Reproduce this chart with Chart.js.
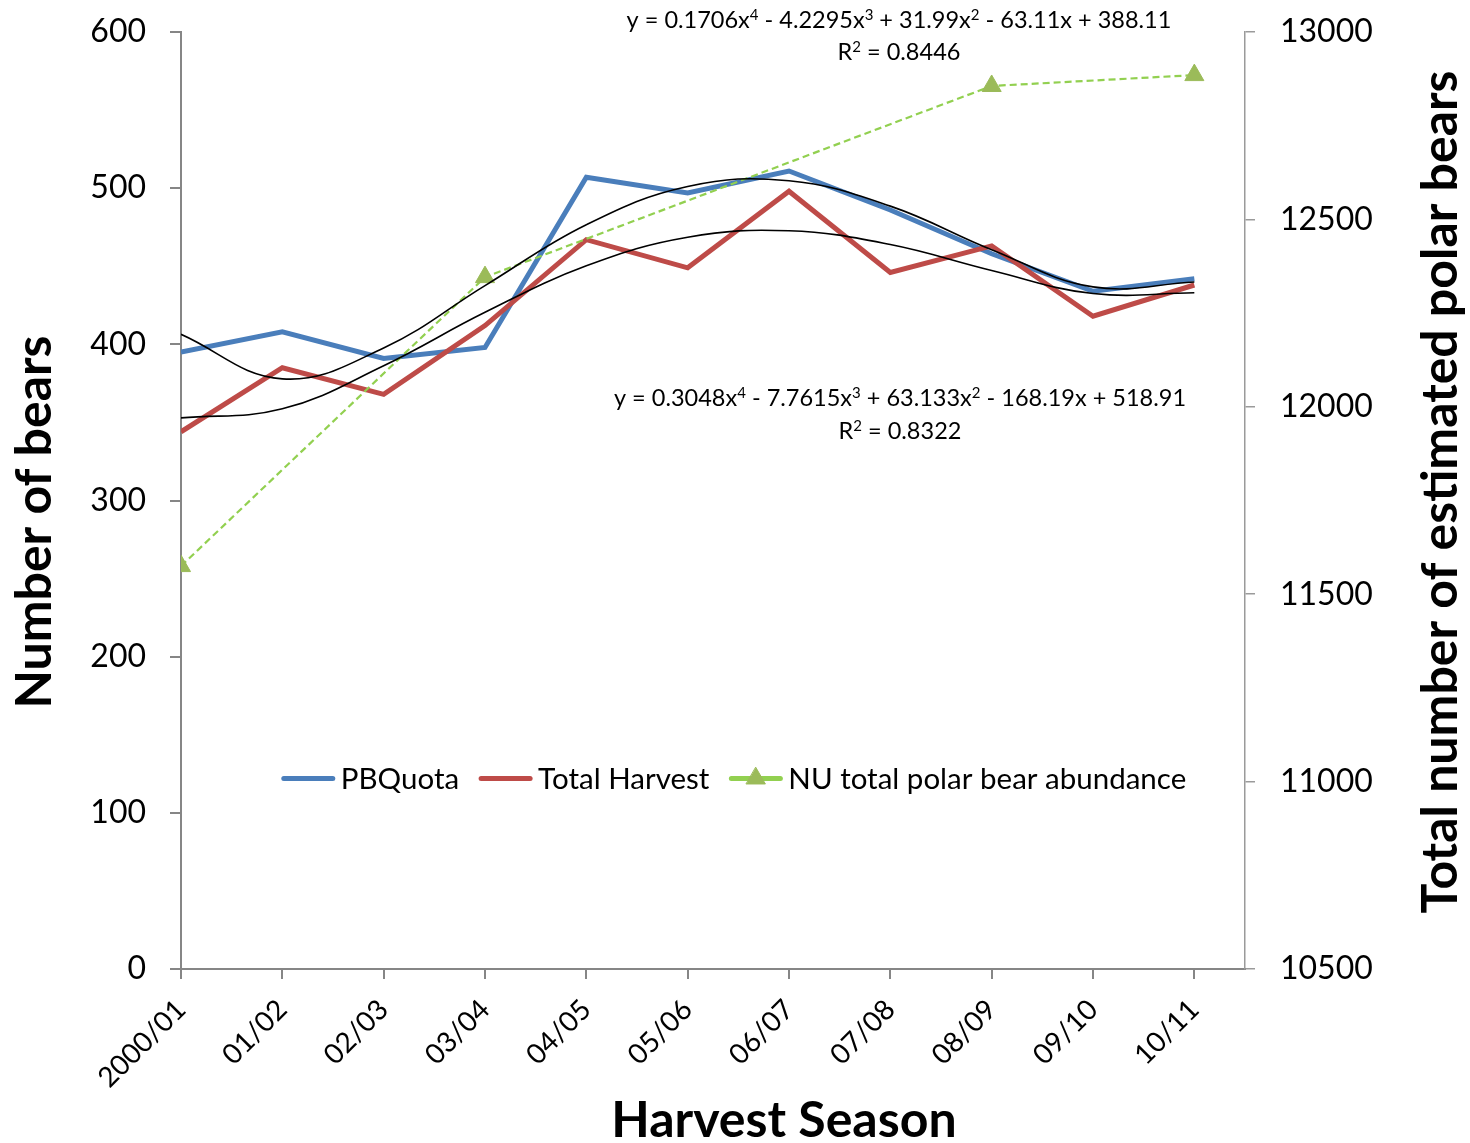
<!DOCTYPE html>
<html>
<head>
<meta charset="utf-8">
<script src="https://cdn.jsdelivr.net/npm/chart.js@4.4.1/dist/chart.umd.min.js"></script>
<style>
    html, body { margin: 0; padding: 0; background: #fff; }
    #wrap { width: 1470px; height: 1143px; }
</style>
</head>
<body>
<div id="wrap"><canvas id="chart"></canvas></div>
<script>
const seasons = ['2000/01', '01/02', '02/03', '03/04', '04/05', '05/06', '06/07', '07/08', '08/09', '09/10', '10/11'];
const pbQuota = [395, 408, 391, 398, 507, 497, 511, 486, 458, 434, 442];
const totalHarvest = [344, 385, 368, 412, 467, 449, 498, 446, 463, 418, 438];
const abundance = [11575, null, null, 12346, null, null, null, null, 12856, null, 12885];
// trend curves, read at each season
const quotaTrend = [406.4, 377.9, 397.7, 437.6, 476.6, 501.1, 504.7, 488.5, 460.6, 436.8, 439.9];
const harvestTrend = [352.9, 358.7, 386.3, 420.5, 450.3, 468.6, 472.7, 463.9, 447.3, 432.5, 433.0];

const harvestEq = [['y = 0.1706x'], ['4', 1], [' - 4.2295x'], ['3', 1], [' + 31.99x'], ['2', 1], [' - 63.11x + 388.11']];
const harvestR2 = [['R'], ['2', 1], [' = 0.8446']];
const quotaEq = [['y = 0.3048x'], ['4', 1], [' - 7.7615x'], ['3', 1], [' + 63.133x'], ['2', 1], [' - 168.19x + 518.91']];
const quotaR2 = [['R'], ['2', 1], [' = 0.8322']];

const BLUE = '#4A7EBB';
const RED = '#BE4B48';
const GREEN = '#92D050';
const MARKER = '#9BBB59';
const AXIS = '#868686';
const FONT = 'Lato';

function toPoints(values) {
    return values.map((v, i) => ({ x: i, y: v })).filter(p => p.y !== null);
}

function drawRich(ctx, parts, cx, cy, size) {
    const supSize = Math.round(size * 0.62);
    let total = 0;
    parts.forEach(([t, sup]) => {
        ctx.font = (sup ? supSize : size) + 'px ' + FONT;
        total += ctx.measureText(t).width;
    });
    let x = cx - total / 2;
    const base = cy + size * 0.36;
    ctx.textAlign = 'left';
    ctx.textBaseline = 'alphabetic';
    parts.forEach(([t, sup]) => {
        ctx.font = (sup ? supSize : size) + 'px ' + FONT;
        ctx.fillText(t, x, sup ? base - size * 0.36 : base);
        x += ctx.measureText(t).width;
    });
}

const extrasPlugin = {
    id: 'extras',
    afterDraw(chart) {
        const ctx = chart.ctx;
        ctx.save();
        ctx.fillStyle = '#000';

        // trendline labels
        drawRich(ctx, harvestEq, 899, 20, 23.5);
        drawRich(ctx, harvestR2, 899, 52, 23.5);
        drawRich(ctx, quotaEq, 900, 398, 23.5);
        drawRich(ctx, quotaR2, 900, 431, 23.5);

        // axis titles
        ctx.font = 'bold 50px ' + FONT;
        ctx.textAlign = 'center';
        ctx.textBaseline = 'middle';
        ctx.fillText('Harvest Season', 784, 1121);
        ctx.save();
        ctx.translate(35, 522);
        ctx.rotate(-Math.PI / 2);
        ctx.fillText('Number of bears', 0, 0);
        ctx.restore();
        ctx.save();
        ctx.translate(1441, 492);
        ctx.rotate(-Math.PI / 2);
        ctx.fillText('Total number of estimated polar bears', 0, 0);
        ctx.restore();

        // legend inside the plot
        const items = [
            { label: 'PBQuota', color: BLUE },
            { label: 'Total Harvest', color: RED },
            { label: 'NU total polar bear abundance', color: GREEN, marker: true }
        ];
        ctx.font = '29.5px ' + FONT;
        const lineLen = 53, gapText = 6, gapItem = 20;
        let total = 0;
        items.forEach((it, i) => {
            total += lineLen + gapText + ctx.measureText(it.label).width + (i < items.length - 1 ? gapItem : 0);
        });
        let x = 734 - total / 2;
        const ly = chart.scales.y.getPixelForValue(122);
        ctx.textAlign = 'left';
        ctx.textBaseline = 'middle';
        items.forEach(it => {
            ctx.strokeStyle = it.color;
            ctx.lineWidth = 5;
            ctx.lineCap = 'round';
            ctx.beginPath();
            ctx.moveTo(x + 2, ly);
            ctx.lineTo(x + lineLen - 2, ly);
            ctx.stroke();
            if (it.marker) {
                ctx.fillStyle = MARKER;
                ctx.strokeStyle = MARKER;
                ctx.lineWidth = 1;
                Chart.helpers.drawPoint(ctx, { pointStyle: 'triangle', radius: 11, borderWidth: 1 }, x + lineLen / 2, ly);
            }
            ctx.fillStyle = '#000';
            ctx.fillText(it.label, x + lineLen + gapText, ly + 1);
            x += lineLen + gapText + ctx.measureText(it.label).width + gapItem;
        });
        ctx.restore();
    }
};

function fixVertical(width) {
    return s => {
        s.width = width;
        s.paddingTop = 0;
        s.paddingBottom = 0;
    };
}

function initChart() {
    const ctx = document.getElementById('chart').getContext('2d');
    new Chart(ctx, {
        type: 'line',
        data: {
            datasets: [
                {
                    label: 'Poly. (Total Harvest)',
                    data: toPoints(harvestTrend),
                    borderColor: '#000',
                    borderWidth: 1.6,
                    pointRadius: 0,
                    tension: 0.4,
                    yAxisID: 'y'
                },
                {
                    label: 'Poly. (PBQuota)',
                    data: toPoints(quotaTrend),
                    borderColor: '#000',
                    borderWidth: 1.6,
                    pointRadius: 0,
                    tension: 0.4,
                    yAxisID: 'y'
                },
                {
                    label: 'NU total polar bear abundance',
                    data: toPoints(abundance),
                    borderColor: GREEN,
                    borderWidth: 2.2,
                    borderDash: [7, 4],
                    pointStyle: 'triangle',
                    pointRadius: 11,
                    pointBackgroundColor: MARKER,
                    pointBorderColor: MARKER,
                    pointBorderWidth: 1,
                    yAxisID: 'y1'
                },
                {
                    label: 'Total Harvest',
                    data: toPoints(totalHarvest),
                    borderColor: RED,
                    borderWidth: 5,
                    pointRadius: 0,
                    yAxisID: 'y'
                },
                {
                    label: 'PBQuota',
                    data: toPoints(pbQuota),
                    borderColor: BLUE,
                    borderWidth: 5,
                    pointRadius: 0,
                    yAxisID: 'y'
                }
            ]
        },
        options: {
            responsive: false,
            animation: false,
            devicePixelRatio: 1,
            layout: { padding: { top: 32, left: 0, right: 0, bottom: 0 } },
            plugins: {
                legend: { display: false },
                tooltip: { enabled: false }
            },
            scales: {
                x: {
                    type: 'linear',
                    min: 0,
                    max: 10.5,
                    afterBuildTicks: s => { s.ticks = seasons.map((_, i) => ({ value: i })); },
                    afterFit: s => { s.height = 174; },
                    ticks: {
                        autoSkip: false,
                        minRotation: 45,
                        maxRotation: 45,
                        padding: 14,
                        color: '#000',
                        font: { family: FONT, size: 28 },
                        callback: v => seasons[v]
                    },
                    grid: { drawOnChartArea: false, tickLength: 10, color: AXIS, lineWidth: 2 },
                    border: { color: AXIS, width: 2 }
                },
                y: {
                    position: 'left',
                    min: 0,
                    max: 600,
                    afterFit: fixVertical(181),
                    ticks: { stepSize: 100, padding: 24, color: '#000', font: { family: FONT, size: 32 } },
                    grid: { drawOnChartArea: false, tickLength: 11, color: AXIS, lineWidth: 2 },
                    border: { color: AXIS, width: 2 }
                },
                y1: {
                    position: 'right',
                    min: 10500,
                    max: 13000,
                    afterFit: fixVertical(225),
                    ticks: {
                        stepSize: 500,
                        padding: 25,
                        color: '#000',
                        font: { family: FONT, size: 32 },
                        callback: v => String(v)
                    },
                    grid: { drawOnChartArea: false, tickLength: 10, color: '#9a9a9a', lineWidth: 1.5 },
                    border: { color: '#9a9a9a', width: 1.5 }
                }
            }
        },
        plugins: [extrasPlugin]
    });
}

const cv = document.getElementById('chart');
cv.width = 1470;
cv.height = 1143;
Promise.all([
    document.fonts.load('32px Lato'),
    document.fonts.load('bold 50px Lato')
]).then(initChart, initChart);
</script>
</body>
</html>
